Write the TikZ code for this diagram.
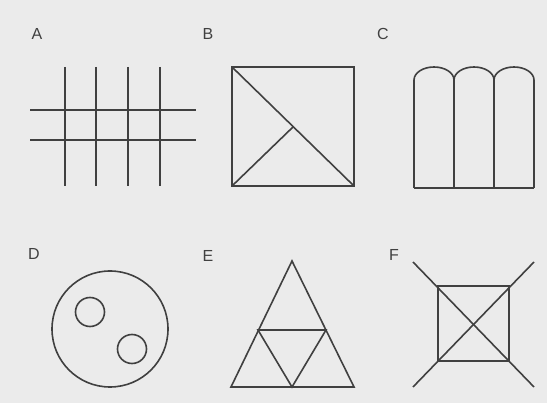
\documentclass[tikz,border=0pt]{standalone}
\usepackage{fontspec}
\setmainfont{Liberation Sans}
\usepackage{tikz}
\usetikzlibrary{positioning}
\definecolor{pPaper}{HTML}{EBEBEB}
\definecolor{pLine}{HTML}{404040}
\tikzset{fig/.style={draw=pLine, line width=1.6pt},
  lbl/.style={font=\fontsize{16}{18}\selectfont, text=pLine, inner sep=0pt}}

\begin{document}
\begin{tikzpicture}[x=1pt, y=-1pt]
      \fill[pPaper] (0,0) rectangle (547,403);
      \useasboundingbox (0,0) rectangle (547,403);
      \foreach \n/\x/\y in {A/37/34, B/208/34, C/383/34, D/34/254, E/208/256, F/394/255}
        \node[lbl] (lbl\n) at (\x,\y) {\n};
      % A: grid
      \foreach \x in {65,96,128,160} \draw[fig] (\x,67) -- (\x,186);
      \foreach \y in {110,140} \draw[fig] (30,\y) -- (196,\y);
      % B: square with diagonal
      \draw[fig] (232,67) rectangle (354,186);
      \draw[fig] (232,67) -- (354,186);
      \draw[fig] (232,186) -- (293,127);
      % C: arches
      \draw[fig] (414,188) -- (534,188);
      \foreach \x in {414,454,494,534} \draw[fig] (\x,80) -- (\x,188);
      \foreach \x in {414,454,494}
        \draw[fig] (\x,80) arc[start angle=180, end angle=360, x radius=20, y radius=13];
      % D: circles
      \draw[fig] (110,329) circle[radius=58];
      \draw[fig] (90,312) circle[radius=14.5];
      \draw[fig] (132,349) circle[radius=14.5];
      % E: triangles
      \draw[fig] (292,261) -- (231,387) -- (354,387) -- cycle;
      \draw[fig] (258,330) -- (326,330) -- (292,387) -- cycle;
      % F: crossed square
      \draw[fig] (438,286) rectangle (509,361);
      \draw[fig] (413,262) -- (534,387);
      \draw[fig] (534,262) -- (413,387);
    \end{tikzpicture}
\end{document}
